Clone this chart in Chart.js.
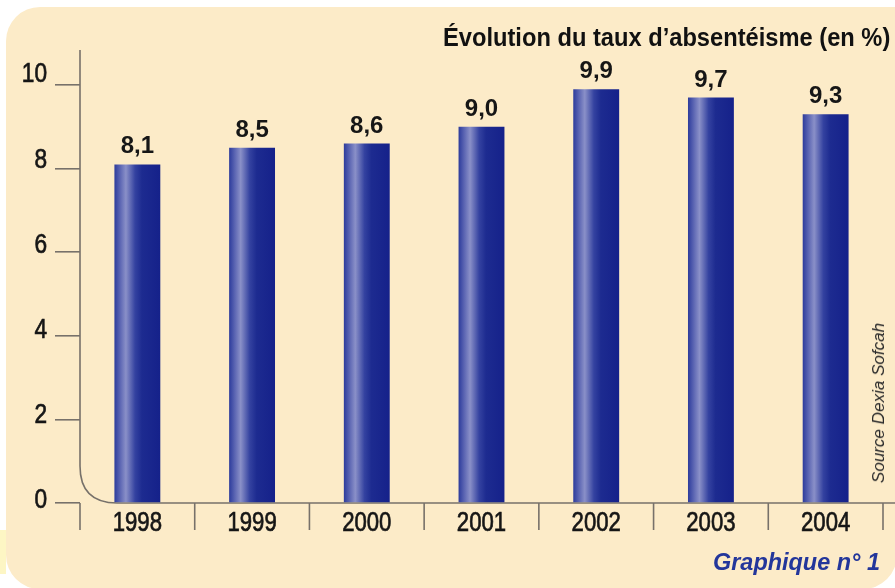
<!DOCTYPE html>
<html><head><meta charset="utf-8">
<script src="https://cdn.jsdelivr.net/npm/chart.js@4"></script>
<style>
html,body{margin:0;padding:0;background:#fff;width:895px;height:588px;overflow:hidden}
#wrap{position:relative;width:895px;height:588px;overflow:hidden}
#bg{position:absolute;left:6px;top:7px;width:891px;height:582px;background:#fcebc8;border-radius:34px 0 34px 34px}
#strip{position:absolute;left:0;top:530px;width:6px;height:44px;background:#fdf6c4}
#cv{position:absolute;left:0;top:0}
.t{position:absolute;white-space:nowrap;font-family:'Liberation Sans',Arial,sans-serif}
#title{right:5px;top:23px;font-weight:bold;font-size:25px;color:#111;transform-origin:100% 50%}
#graph{right:15px;top:548px;font-weight:bold;font-style:italic;font-size:24px;color:#23369b;transform-origin:100% 50%}
#src{left:879px;top:403px;font-style:italic;font-size:16px;color:#2a2a2a}
</style></head>
<body>
<div id="wrap">
  <div id="bg"></div>
  <div id="strip"></div>
  <canvas id="cv" width="895" height="588"></canvas>
  <div class="t" id="title">Évolution du taux d’absentéisme (en %)</div>
  <div class="t" id="graph">Graphique n° 1</div>
  <div class="t" id="src">Source Dexia Sofcah</div>
</div>
<script>
const categories = ['1998','1999','2000','2001','2002','2003','2004'];
const values = [8.1, 8.5, 8.6, 9.0, 9.9, 9.7, 9.3];
const valueLabels = ['8,1','8,5','8,6','9,0','9,9','9,7','9,3'];
const yTicks = [0, 2, 4, 6, 8, 10];

const FONT = "'Liberation Sans', Arial, sans-serif";
const AXIS = '#77716a';
const TEXT = '#161616';

function fit(id, target, extra) {
  const el = document.getElementById(id);
  const s = target / el.offsetWidth;
  el.style.transform = (extra || '') + ' scaleX(' + s + ')';
}
fit('title', 447);
fit('graph', 167);
fit('src', 160, 'translate(-50%,-50%) rotate(-90deg)');

const BAR_PCT = 0.40;

function barGradient(ctx) {
  const chart = ctx.chart;
  const xs = chart.scales.x;
  if (!xs || ctx.dataIndex === undefined || !chart.chartArea) return '#1c2a8e';
  const cx = xs.getPixelForValue(ctx.dataIndex);
  const cw = (xs.getPixelForValue(1) - xs.getPixelForValue(0)) || 100;
  const half = cw * BAR_PCT / 2;
  const g = chart.ctx.createLinearGradient(cx - half, 0, cx + half, 0);
  g.addColorStop(0, '#2c3b9c');
  g.addColorStop(0.12, '#5a64b2');
  g.addColorStop(0.25, '#8a90c8');
  g.addColorStop(0.45, '#3442a0');
  g.addColorStop(0.6, '#1d2b90');
  g.addColorStop(1, '#15218a');
  return g;
}

const axisPlugin = {
  id: 'axisPlugin',
  beforeDatasetsDraw(chart) {
    const c = chart.ctx, xs = chart.scales.x, ys = chart.scales.y;
    const x0 = chart.chartArea.left, y0 = ys.getPixelForValue(0);
    const top = ys.getPixelForValue(10) - 35;
    const r = 37;
    c.save();
    c.strokeStyle = AXIS; c.lineWidth = 1.6;
    c.beginPath();
    c.moveTo(x0, top);
    c.lineTo(x0, y0 - r);
    c.quadraticCurveTo(x0, y0, x0 + r, y0);
    c.lineTo(chart.width, y0);
    c.stroke();
    const cw = xs.getPixelForValue(1) - xs.getPixelForValue(0);
    for (let i = 0; i <= categories.length; i++) {
      const bx = xs.getPixelForValue(0) - cw / 2 + i * cw;
      c.beginPath();
      c.moveTo(bx, y0);
      c.lineTo(bx, y0 + 27);
      c.stroke();
    }
    c.restore();
  },
  afterDatasetsDraw(chart) {
    const c = chart.ctx, xs = chart.scales.x, ys = chart.scales.y;
    const meta = chart.getDatasetMeta(0);
    c.save();
    c.fillStyle = TEXT;
    c.strokeStyle = TEXT;
    c.font = "bold 24px " + FONT;
    c.textAlign = 'center';
    c.textBaseline = 'alphabetic';
    meta.data.forEach((bar, i) => {
      c.fillText(valueLabels[i], bar.x, bar.y - 11);
    });
    c.font = "27px " + FONT;
    c.textBaseline = 'middle';
    c.lineWidth = 0.7;
    const y0 = ys.getPixelForValue(0);
    categories.forEach((lab, i) => {
      c.save();
      c.translate(xs.getPixelForValue(i), y0 + 21);
      c.scale(0.82, 1);
      c.textAlign = 'center';
      c.fillText(lab, 0, 0);
      c.strokeText(lab, 0, 0);
      c.restore();
    });
    yTicks.forEach(v => {
      c.save();
      c.translate(47, ys.getPixelForValue(v) - 2 - 0.8 * v);
      c.scale(0.84, 1);
      c.textAlign = 'right';
      c.fillText(String(v), 0, 0);
      c.strokeText(String(v), 0, 0);
      c.restore();
    });
    c.restore();
  }
};

new Chart(document.getElementById('cv'), {
  type: 'bar',
  data: {
    labels: categories,
    datasets: [{
      data: values,
      backgroundColor: barGradient,
      borderWidth: 0,
      barPercentage: BAR_PCT,
      categoryPercentage: 1
    }]
  },
  options: {
    responsive: false,
    animation: false,
    devicePixelRatio: 1,
    layout: { padding: { top: 85, right: 12, left: 0, bottom: 0 } },
    plugins: { legend: { display: false }, tooltip: { enabled: false }, title: { display: false } },
    scales: {
      x: {
        offset: true,
        grid: { display: false, drawTicks: false },
        border: { display: false },
        ticks: { display: false },
        afterFit(s) { s.height = 85; }
      },
      y: {
        min: 0, max: 10,
        afterBuildTicks(s) { s.ticks = yTicks.map(v => ({ value: v })); },
        grid: { display: true, drawOnChartArea: false, drawTicks: true, tickLength: 25, color: AXIS, lineWidth: 1.6 },
        border: { display: false },
        ticks: { display: false },
        afterFit(s) { s.width = 80; }
      }
    }
  },
  plugins: [axisPlugin]
});
</script>
</body></html>
